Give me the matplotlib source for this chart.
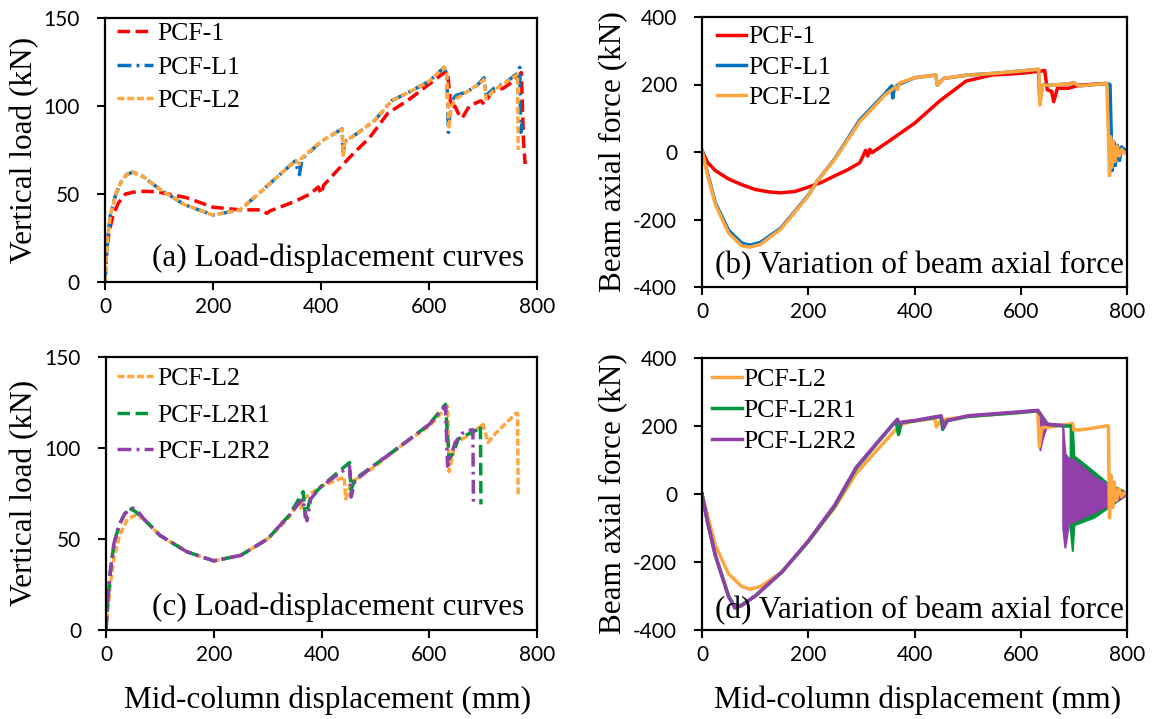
import matplotlib
matplotlib.use("Agg")
import matplotlib.pyplot as plt

plt.rcParams['axes.unicode_minus'] = False

# ---- (a) load-displacement, PCF-1 / PCF-L1 / PCF-L2 ----
a_pcf1_x = [0, 3, 8, 15, 25, 38, 60, 80, 100, 150, 200, 250, 290, 300, 306, 320, 353, 380, 395, 400, 405,
            420, 435, 460, 490, 524, 560, 586, 624, 634, 641, 648, 654, 661, 675, 696, 702, 716, 737, 761,
            771, 775, 778]
a_pcf1_y = [0, 18, 29, 38, 45, 50, 51.5, 51.5, 51, 48, 42.5, 41, 41, 39, 40.5, 42, 46, 50, 54, 50, 55,
            60, 65, 73, 82, 96, 103, 109, 118, 120, 98, 100, 96, 93, 100, 103, 101, 108, 110, 115,
            119, 80, 67]
a_pcfl1_x = [0, 2, 5, 10, 20, 30, 40, 51, 70, 100, 147, 200, 250, 284, 320, 353, 358, 360, 365, 401, 439,
             441, 445, 470, 500, 531, 570, 600, 628, 633, 636, 640, 650, 670, 690, 702, 706, 720, 740, 766,
             768, 770, 772]
a_pcfl1_y = [0, 12, 25, 38, 50, 57, 61, 62.4, 60, 53, 44, 38, 41, 50, 60, 69, 62, 61, 70, 80, 87,
             74, 80, 85, 92, 103, 109, 114, 122, 118, 85, 102, 106, 108, 112, 116, 106, 110, 113, 119,
             122, 85, 90]
a_pcfl2_x = [0, 2, 5, 10, 20, 30, 40, 51, 70, 100, 147, 200, 250, 284, 320, 353, 360, 363, 370, 401, 439,
             441, 445, 470, 500, 531, 570, 600, 628, 633, 637, 641, 650, 670, 690, 702, 706, 720, 740, 760,
             764, 765]
a_pcfl2_y = [0, 12, 25, 38, 50, 57, 61, 62.4, 60, 53, 44, 38, 41, 50, 60, 69, 67, 70, 72, 80, 87,
             72, 80, 85, 92, 103, 109, 114, 122, 118, 87, 100, 104, 108, 112, 115, 104, 109, 113, 117,
             118, 75]

# ---- (b) beam axial force, PCF-1 / PCF-L1 / PCF-L2 ----
b_pcf1_x = [0, 10, 25, 50, 75, 100, 125, 148, 175, 200, 225, 248, 275, 297, 303, 308, 312, 316, 320, 350,
            400, 448, 497, 545, 600, 640, 645, 650, 658, 662, 669, 690, 710, 759, 765]
b_pcf1_y = [5, -30, -55, -80, -97, -111, -118, -121, -117, -104, -90, -72, -52, -32, -12, 5, -12, 8, -2, 30,
            85, 152, 210, 228, 233, 240, 242, 184, 180, 149, 189, 189, 198, 203, 200]
b_pcfl1_x = [0, 10, 25, 50, 75, 90, 110, 148, 200, 217, 250, 297, 345, 357, 359, 362, 370, 400, 440, 443,
             455, 500, 550, 600, 633, 636, 641, 660, 690, 700, 710, 762, 768, 772, 775, 778, 782, 786, 790,
             795, 800]
b_pcfl1_y = [5, -60, -150, -232, -270, -276, -268, -226, -128, -86, -20, 95, 174, 196, 160, 190, 200, 220,
             228, 198, 218, 228, 233, 240, 245, 150, 198, 198, 202, 205, 196, 203, 200, -55, 30, -40, 20,
             -25, 15, 5, 10]
b_pcfl2_x = [0, 10, 25, 50, 75, 90, 110, 148, 200, 217, 250, 297, 345, 365, 368, 372, 400, 440, 443, 455,
             500, 550, 600, 634, 636, 641, 660, 690, 700, 710, 762, 765, 767, 769, 771, 774, 777, 781, 785,
             790, 795, 800]
b_pcfl2_y = [5, -65, -155, -240, -278, -282, -274, -229, -130, -86, -22, 90, 170, 193, 185, 205, 220, 228,
             198, 218, 228, 233, 240, 245, 139, 198, 198, 202, 205, 196, 203, 50, -70, 45, -45, 30, -28,
             18, -12, 8, -4, 0]

# ---- (c) load-displacement, PCF-L2 / PCF-L2R1 / PCF-L2R2 ----
c_l2_x = [0, 3, 8, 15, 25, 40, 55, 70, 100, 150, 200, 250, 300, 340, 359, 362, 366, 400, 442, 445, 455,
          500, 560, 600, 634, 637, 648, 668, 696, 699, 709, 723, 761, 764, 765]
c_l2_y = [0, 10, 25, 40, 52, 61, 63, 61, 52, 43, 38, 41, 50, 62, 71, 67, 72, 79, 84, 72, 81,
          90, 104, 112, 123, 87, 103, 106, 112, 114, 103, 108, 119, 119, 73]
c_r1_x = [0, 3, 8, 15, 25, 35, 43, 55, 70, 100, 150, 200, 250, 300, 340, 366, 370, 380, 400, 452, 455,
          462, 500, 560, 600, 630, 637, 644, 654, 689, 695, 696]
c_r1_y = [0, 15, 32, 48, 58, 64, 67, 65, 61, 52, 43, 38, 41, 50, 63, 76, 62, 73, 79, 92, 77,
          83, 91, 104, 113, 124, 94, 97, 105, 110, 112, 69]
c_r2_x = [0, 3, 8, 15, 25, 35, 50, 60, 70, 100, 150, 200, 250, 300, 340, 365, 373, 380, 400, 452, 455,
          462, 500, 560, 600, 630, 634, 648, 661, 678, 681, 682]
c_r2_y = [0, 15, 32, 48, 58, 64, 67, 65, 61, 52, 43, 38, 41, 50, 63, 72, 60, 72, 79, 90, 73,
          82, 91, 104, 113, 123, 90, 103, 108, 110, 110, 69]

# ---- (d) beam axial force, PCF-L2 / PCF-L2R1 / PCF-L2R2 ----
d_l2_x = [0, 10, 25, 50, 75, 90, 110, 150, 200, 250, 290, 330, 365, 370, 375, 400, 438, 441, 450, 500,
          600, 632, 635, 640, 660, 690, 697, 700, 720, 760, 765, 767, 770, 773, 776, 780, 785, 790, 795, 800]
d_l2_y = [0, -60, -150, -235, -272, -280, -272, -230, -140, -40, 60, 130, 190, 185, 205, 215, 222, 197,
          218, 228, 240, 245, 140, 195, 198, 205, 208, 188, 190, 200, 200, -70, 55, -40, 35, -20, 15, -8,
          4, 0]
d_r1_x = [0, 10, 25, 50, 62, 75, 100, 150, 200, 250, 290, 330, 365, 370, 375, 400, 450, 453, 460, 500,
          600, 632, 650, 680, 693]
d_r1_y = [0, -80, -180, -300, -333, -326, -300, -230, -140, -35, 75, 150, 215, 175, 210, 215, 228, 190,
          215, 228, 240, 245, 205, 200, 200]
# oscillation envelope after the R1 drop
d_r1_env_x = [693, 697, 700, 710, 738, 765, 800]
d_r1_env_hi = [200, 207, 112, 100, 65, 30, 5]
d_r1_env_lo = [-100, -166, -90, -85, -68, -38, 0]
d_r2_x = [0, 10, 25, 50, 62, 75, 100, 150, 200, 250, 290, 330, 368, 372, 378, 400, 450, 455, 462, 500,
          600, 632, 650, 679]
d_r2_y = [0, -80, -180, -302, -336, -328, -300, -230, -138, -32, 78, 152, 220, 205, 212, 216, 230, 195,
          216, 230, 242, 246, 205, 202]
d_r2_env_x = [679, 683, 690, 700, 720, 738, 755, 772, 790, 800]
d_r2_env_hi = [202, 119, 105, 100, 75, 50, 35, 21, 8, 3]
d_r2_env_lo = [-100, -156, -87, -80, -65, -53, -40, -24, -10, 0]
d_r2_osc_x = [632, 636, 640, 645, 650]
d_r2_osc_hi = [246, 230, 222, 213, 206]
d_r2_osc_lo = [246, 130, 160, 185, 205]

RED = '#FF0000'
BLUE = '#0070C0'
ORANGE = '#FFA640'
GREEN = '#00963C'
PURPLE = '#9040A8'

SERIF = 'Liberation Serif'
SANS = 'Lato'

W, H = 1155, 719


def px_axes(left, top, right, bottom):
    return fig.add_axes([left / W, 1 - bottom / H, (right - left) / W, (bottom - top) / H])


def style(ax, ylim, yticks):
    ax.set_xlim(0, 800)
    ax.set_ylim(*ylim)
    ax.set_xticks([0, 200, 400, 600, 800])
    ax.set_yticks(yticks)
    for s in ax.spines.values():
        s.set_linewidth(1.6)
    ax.tick_params(direction='out', length=6, width=1.5, labelsize=15)
    ax.tick_params(axis='y', pad=12)
    ax.tick_params(axis='x', pad=5)
    for lab in ax.get_xticklabels() + ax.get_yticklabels():
        lab.set_fontfamily(SANS)


def legend(ax, anchor, hl, pad, spacing):
    ax.legend(loc='upper left', bbox_to_anchor=anchor, frameon=False,
              prop={'family': SERIF, 'size': 18.5}, handlelength=hl, handletextpad=pad,
              labelspacing=spacing, borderaxespad=0.0, borderpad=0.1)


fig = plt.figure(figsize=(W / 100, H / 100), dpi=100)

LW = 2.5
LONG = (3.6, 1.6)
DASHDOT = (4, 1.5, 0.8, 1.5)
SQUARE = (2, 0.8)

# (a)
ax = px_axes(105, 18, 537, 282)
ax.plot(a_pcf1_x, a_pcf1_y, color=RED, lw=LW, dashes=LONG, label='PCF-1')
ax.plot(a_pcfl1_x, a_pcfl1_y, color=BLUE, lw=LW, dashes=DASHDOT, label='PCF-L1')
ax.plot(a_pcfl2_x, a_pcfl2_y, color=ORANGE, lw=LW, dashes=SQUARE, label='PCF-L2')
style(ax, (0, 150), [0, 50, 100, 150])
legend(ax, (0.022, 0.995), 1.4, 0.15, 0.42)
ax.text(0.97, 0.06, '(a) Load-displacement curves', transform=ax.transAxes, ha='right',
        va='baseline', family=SERIF, fontsize=22.5)

# (b)
ax = px_axes(702, 17, 1127, 287)
ax.plot(b_pcf1_x, b_pcf1_y, color=RED, lw=LW, label='PCF-1')
ax.plot(b_pcfl1_x, b_pcfl1_y, color=BLUE, lw=LW, label='PCF-L1')
ax.plot(b_pcfl2_x, b_pcfl2_y, color=ORANGE, lw=LW, label='PCF-L2')
style(ax, (-400, 400), [-400, -200, 0, 200, 400])
legend(ax, (0.03, 0.978), 1.13, 0.08, 0.28)
ax.text(0.993, 0.052, '(b) Variation of beam axial force', transform=ax.transAxes, ha='right',
        va='baseline', family=SERIF, fontsize=22.5)

# (c)
ax = px_axes(106, 357, 537, 630)
ax.plot(c_l2_x, c_l2_y, color=ORANGE, lw=LW, dashes=SQUARE, label='PCF-L2')
ax.plot(c_r1_x, c_r1_y, color=GREEN, lw=LW, dashes=LONG, label='PCF-L2R1')
ax.plot(c_r2_x, c_r2_y, color=PURPLE, lw=LW, dashes=DASHDOT, label='PCF-L2R2')
style(ax, (0, 150), [0, 50, 100, 150])
legend(ax, (0.02, 0.974), 1.4, 0.15, 0.54)
ax.text(0.97, 0.055, '(c) Load-displacement curves', transform=ax.transAxes, ha='right',
        va='baseline', family=SERIF, fontsize=22.5)

# (d)
ax = px_axes(702, 358, 1127, 630)
ax.plot(d_l2_x, d_l2_y, color=ORANGE, lw=LW, label='PCF-L2')
ax.plot(d_r1_x, d_r1_y, color=GREEN, lw=LW, label='PCF-L2R1')
ax.fill_between(d_r1_env_x, d_r1_env_lo, d_r1_env_hi, color=GREEN, lw=1.5)
ax.plot(d_r2_x, d_r2_y, color=PURPLE, lw=LW, label='PCF-L2R2')
ax.fill_between(d_r2_env_x, d_r2_env_lo, d_r2_env_hi, color=PURPLE, lw=1.5)
ax.fill_between(d_r2_osc_x, d_r2_osc_lo, d_r2_osc_hi, color=PURPLE, lw=1.5)
style(ax, (-400, 400), [-400, -200, 0, 200, 400])
legend(ax, (0.017, 0.971), 1.17, 0.05, 0.3)
ax.text(0.993, 0.044, '(d) Variation of beam axial force', transform=ax.transAxes, ha='right',
        va='baseline', family=SERIF, fontsize=22.5)

# axis titles
fig.text(25 / W, 1 - 150 / H, 'Vertical load (kN)', rotation=90, ha='center', va='center',
         family=SERIF, fontsize=22.5)
fig.text(25 / W, 1 - 493 / H, 'Vertical load (kN)', rotation=90, ha='center', va='center',
         family=SERIF, fontsize=22.5)
fig.text(613 / W, 1 - 152 / H, 'Beam axial force (kN)', rotation=90, ha='center', va='center',
         family=SERIF, fontsize=22.5)
fig.text(613 / W, 1 - 494 / H, 'Beam axial force (kN)', rotation=90, ha='center', va='center',
         family=SERIF, fontsize=22.5)
fig.text(328 / W, 1 - 700 / H, 'Mid-column displacement (mm)', ha='center', va='center',
         family=SERIF, fontsize=22.5)
fig.text(918 / W, 1 - 700 / H, 'Mid-column displacement (mm)', ha='center', va='center',
         family=SERIF, fontsize=22.5)

fig.savefig('out.png', dpi=100)
